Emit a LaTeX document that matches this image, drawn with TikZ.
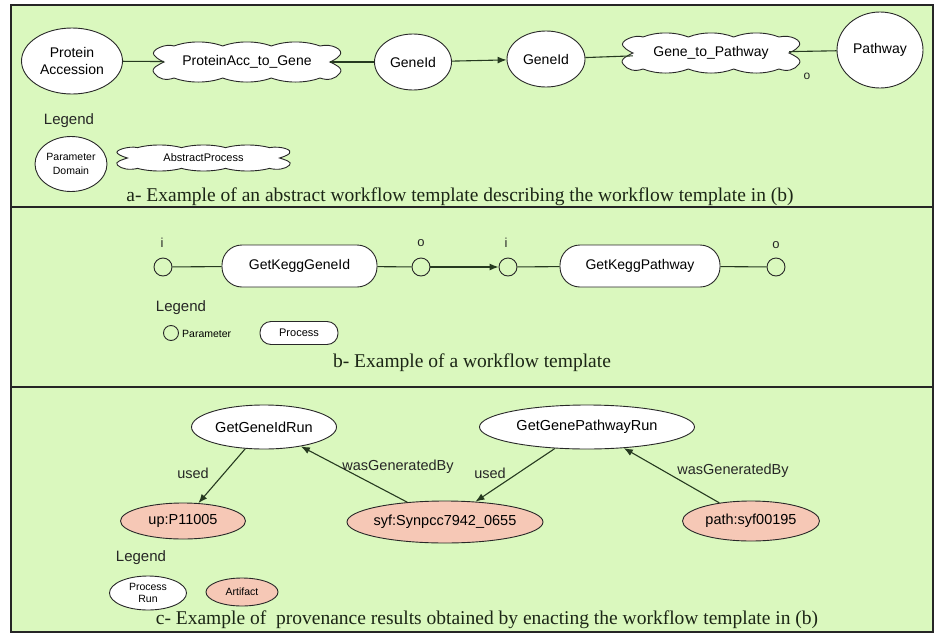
\documentclass[tikz,border=0pt]{standalone}
\usepackage{fontspec}
\setmainfont{Liberation Serif}
\setsansfont{Liberation Sans}
\usetikzlibrary{shapes.geometric,arrows.meta}
\definecolor{panelgreen}{RGB}{218,248,190}
\definecolor{artifactcol}{RGB}{246,200,182}
\definecolor{edgecol}{RGB}{38,58,32}
\definecolor{outlinecol}{RGB}{40,40,40}
\definecolor{captioncol}{RGB}{28,38,22}
% #1 node name, #2 half width to the notch, #3 half height
\newcommand{\wavecloud}[3]{%
  \pgfmathsetmacro\cwA{-#2+10}%
  \pgfmathsetmacro\cwW{(2*#2-20)/3}%
  \begin{scope}[shift={(#1.center)}]
  \filldraw[cloudline]
    (\cwA,{-0.8*#3})
    .. controls ({\cwA+0.3*\cwW},{-1.07*#3}) and ({\cwA+0.7*\cwW},{-1.07*#3}) .. ({\cwA+\cwW},{-0.8*#3})
    .. controls ({\cwA+1.3*\cwW},{-1.07*#3}) and ({\cwA+1.7*\cwW},{-1.07*#3}) .. ({\cwA+2*\cwW},{-0.8*#3})
    .. controls ({\cwA+2.3*\cwW},{-1.07*#3}) and ({\cwA+2.7*\cwW},{-1.07*#3}) .. ({\cwA+3*\cwW},{-0.8*#3})
    .. controls ({#2+2},{-0.95*#3}) and ({#2+14},{-0.6*#3}) .. ({#2+10},{-0.35*#3})
    .. controls ({#2+7},{-0.15*#3}) and ({#2+2},{-0.05*#3}) .. (#2,0)
    .. controls ({#2+4},{0.1*#3}) and ({#2+14},{0.3*#3}) .. ({#2+10},{0.55*#3})
    .. controls ({#2+6},{0.85*#3}) and ({#2-2},{0.95*#3}) .. ({#2-10},{0.8*#3})
    .. controls ({\cwA+2.7*\cwW},{1.07*#3}) and ({\cwA+2.3*\cwW},{1.07*#3}) .. ({\cwA+2*\cwW},{0.8*#3})
    .. controls ({\cwA+1.7*\cwW},{1.07*#3}) and ({\cwA+1.3*\cwW},{1.07*#3}) .. ({\cwA+\cwW},{0.8*#3})
    .. controls ({\cwA+0.7*\cwW},{1.07*#3}) and ({\cwA+0.3*\cwW},{1.07*#3}) .. (\cwA,{0.8*#3})
    .. controls ({-#2+2},{0.95*#3}) and ({-#2-6},{0.85*#3}) .. ({-#2-10},{0.55*#3})
    .. controls ({-#2-14},{0.3*#3}) and ({-#2-4},{0.1*#3}) .. (-#2,0)
    .. controls ({-#2-2},{-0.05*#3}) and ({-#2-7},{-0.15*#3}) .. ({-#2-10},{-0.35*#3})
    .. controls ({-#2-14},{-0.6*#3}) and ({-#2+2},{-0.95*#3}) .. (\cwA,{-0.8*#3}) -- cycle;
  \end{scope}}
\begin{document}
\begin{tikzpicture}[x=1pt,y=-1pt,
  fs/.style={font=\sffamily\fontsize{#1}{#1}\selectfont},
  ell/.style={ellipse, draw=outlinecol, fill=white, line width=0.9pt, inner xsep=-6pt, inner ysep=-3pt},
  artf/.style={ell, fill=artifactcol},
  cloudline/.style={draw=outlinecol, fill=white, line width=0.9pt},
  cloudbox/.style={rectangle, inner sep=0pt},
  parc/.style={circle, draw=outlinecol, fill=panelgreen, line width=0.9pt, minimum size=18pt, inner sep=0pt},
  proc/.style={rectangle, rounded corners=20pt, draw=outlinecol, fill=white, line width=0.9pt, inner sep=0pt},
  conn/.style={draw=edgecol, line width=1.1pt},
  arr/.style={conn, -{Latex[length=9pt,width=7pt]}},
  captext/.style={font=\rmfamily\fontsize{19.5}{20}\selectfont, text=captioncol, inner sep=0pt},
  lbl/.style={fs=#1, text=black!85, inner sep=1pt},
  legend/.style={fs=15, text=black!85, inner sep=0pt},
  frame/.style={draw=black!85, line width=1.8pt},
  divider/.style={draw=black!85, line width=2.2pt}
]
\fill[white] (0,0) rectangle (935,635);
\useasboundingbox (0,0) rectangle (935,635);
\fill[panelgreen] (11,5) rectangle (933,632);
\draw[divider] (11,207) -- (933,207);
\draw[divider] (11,387) -- (933,387);
\draw[frame] (11,5) rectangle (933,632);

% ---------- panel a ----------
\node[ell, minimum width=101pt, minimum height=66pt, fs=14, align=center] (pa) at (72,61) {Protein\\[3pt]Accession};
\node[cloudbox, minimum width=166pt, minimum height=40pt] (c1) at (247,62) {};
\wavecloud{c1}{83}{20}
\node[fs=14] (c1t) at (c1) {ProteinAcc\_to\_Gene};
\node[ell, minimum width=77pt, minimum height=56pt, fs=14] (g1) at (413,62) {GeneId};
\node[ell, minimum width=78pt, minimum height=56pt, fs=14] (g2) at (546,59) {GeneId};
\node[cloudbox, minimum width=156pt, minimum height=40pt] (c2) at (711,53) {};
\wavecloud{c2}{78}{20}
\node[fs=14] (c2t) at (c2) {Gene\_to\_Pathway};
\node[ell, minimum width=86pt, minimum height=76pt, fs=14] (pw) at (880,50) {Pathway};
\node[lbl=12] (oa) at (807,76) {o};
\draw[conn] (pa) -- (c1);
\draw[conn] (c1) -- (g1);
\draw[arr] (g1) -- (g2);
\draw[conn] (g2) -- (c2);
\draw[conn] (c2) -- (pw);

\node[legend] (lega) at (69,121) {Legend};
\node[ell, minimum width=72pt, minimum height=55pt, fs=10.5, align=center] (pd) at (71,164) {Parameter\\[3pt]Domain};
\node[cloudbox, minimum width=152pt, minimum height=26pt] (ap) at (203.5,158) {};
\wavecloud{ap}{76}{13}
\node[fs=11] (apt) at (ap) {AbstractProcess};
\node[captext] (capa) at (460,197) {a- Example of an abstract workflow template describing the workflow template in (b)};

% ---------- panel b ----------
\node[parc] (i1) at (163,267) {};
\node[proc, minimum width=155pt, minimum height=42pt, fs=14] (gk1) at (299.5,266) {GetKeggGeneId};
\node[parc] (o1) at (421,267) {};
\node[parc] (i2) at (508,267) {};
\node[proc, minimum width=160pt, minimum height=42pt, fs=14] (gk2) at (640,266) {GetKeggPathway};
\node[parc] (o2) at (776,267) {};
\node[lbl=13] (li1) at (162,243) {i};
\node[lbl=13] (lo1) at (421,243) {o};
\node[lbl=13] (li2) at (506,243) {i};
\node[lbl=13] (lo2) at (776,245) {o};
\draw[conn] (i1) -- (gk1);
\draw[conn] (gk1) -- (o1);
\draw[arr] (o1) -- (i2);
\draw[conn] (i2) -- (gk2);
\draw[conn] (gk2) -- (o2);

\node[legend] (legb) at (181,308) {Legend};
\node[parc, minimum size=15pt] (lpar) at (171,333) {};
\node[fs=10.5, anchor=west, inner sep=0pt] (lpart) at (182,334) {Parameter};
\node[proc, rounded corners=11pt, minimum width=78pt, minimum height=23pt, fs=11] (lproc) at (299,333) {Process};
\node[captext] (capb) at (472,363) {b- Example of a workflow template};

% ---------- panel c ----------
\node[ell, minimum width=145pt, minimum height=44pt, fs=14.5] (gr1) at (264,427) {GetGeneIdRun};
\node[ell, minimum width=215pt, minimum height=44pt, fs=14.5] (gr2) at (587,427) {GetGenePathwayRun};
\node[artf, minimum width=125pt, minimum height=36pt, fs=14.5] (up) at (183,521) {up:P11005};
\node[artf, minimum width=196pt, minimum height=42pt, fs=14.5] (syf) at (445,522) {syf:Synpcc7942\_0655};
\node[artf, minimum width=137pt, minimum height=40pt, fs=14.5] (path) at (751,521) {path:syf00195};
\draw[arr] (gr1) -- (up);
\draw[arr] (syf) -- (gr1);
\draw[arr] (gr2) -- (syf);
\draw[arr] (path) -- (gr2);
\node[lbl=14.5] (u1) at (193,473) {used};
\node[lbl=14.5] (w1) at (398,467) {wasGeneratedBy};
\node[lbl=14.5] (u2) at (490,473) {used};
\node[lbl=14.5] (w2) at (733,471) {wasGeneratedBy};

\node[legend] (legc) at (141,558) {Legend};
\node[ell, minimum width=77pt, minimum height=34pt, fs=10.5, align=center, inner ysep=-6pt] (lpr) at (148,593) {Process\\[2pt]Run};
\node[artf, minimum width=72pt, minimum height=28pt, fs=10.5] (lart) at (242,592) {Artifact};
\node[captext] (capc) at (487,620) {c- Example of~~provenance results obtained by enacting the workflow template in (b)};
\end{tikzpicture}
\end{document}
